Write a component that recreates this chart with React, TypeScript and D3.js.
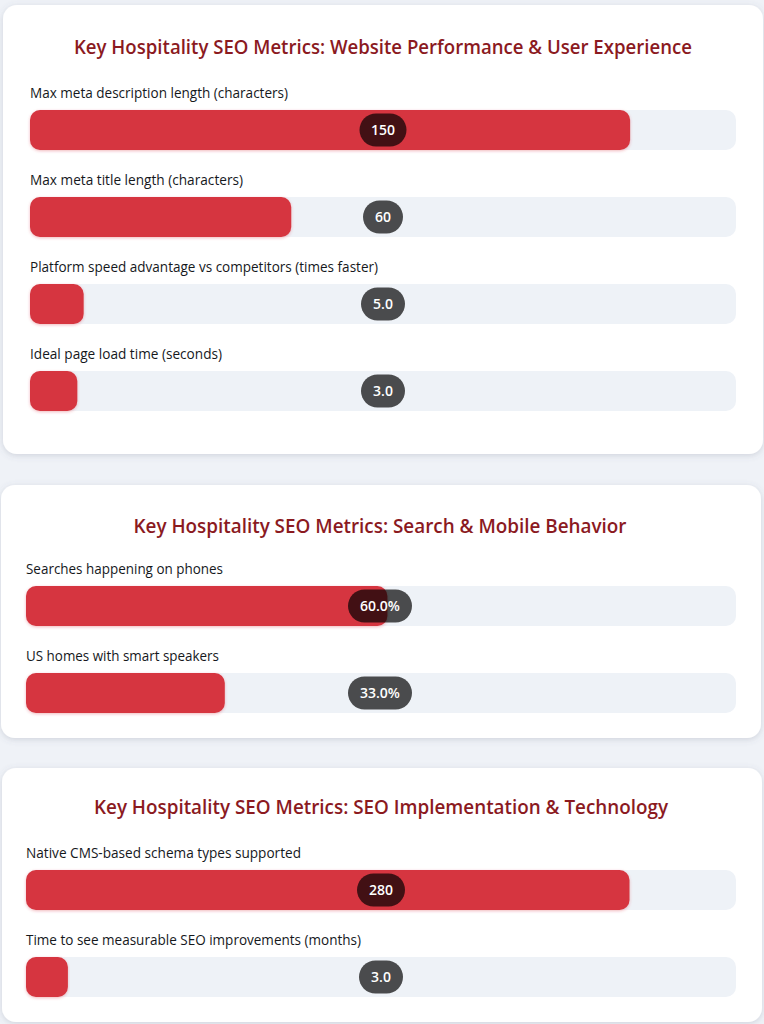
import * as d3 from "d3";

const FONT = "'Open Sans', 'Noto Sans', sans-serif";

const websiteLabels = [
  "Max meta description length (characters)",
  "Max meta title length (characters)",
  "Platform speed advantage vs competitors (times faster)",
  "Ideal page load time (seconds)",
];
const websiteValues = ["150", "60", "5.0", "3.0"];
const websiteFill = [85, 37, 7.6, 6.7];

const searchLabels = ["Searches happening on phones", "US homes with smart speakers"];
const searchValues = ["60.0%", "33.0%"];
const searchFill = [50.9, 28];

const techLabels = [
  "Native CMS-based schema types supported",
  "Time to see measurable SEO improvements (months)",
];
const techValues = ["280", "3.0"];
const techFill = [85, 5.9];

const titles = [
  "Key Hospitality SEO Metrics: Website Performance & User Experience",
  "Key Hospitality SEO Metrics: Search & Mobile Behavior",
  "Key Hospitality SEO Metrics: SEO Implementation & Technology",
];

type CardProps = {
  title: string;
  titleWidth: number;
  labels: string[];
  labelWidths: number[];
  values: string[];
  fill: number[];
  x: number;
  y: number;
  width: number;
  height: number;
  trackLeft: number;
  firstTrack: number;
  titleX: number;
  titleY: number;
  badgeX: number[];
  badgeW: number[];
};

const TRACK_RIGHT = 736;
const TRACK_H = 40;
const ROW_STEP = 87;

function Card({
  title,
  titleWidth,
  labels,
  labelWidths,
  values,
  fill,
  x,
  y,
  width,
  height,
  trackLeft,
  firstTrack,
  titleX,
  titleY,
  badgeX,
  badgeW,
}: CardProps) {
  const xScale = d3.scaleLinear().domain([0, 100]).range([trackLeft, TRACK_RIGHT]);

  return (
    <g>
      <rect x={x} y={y} width={width} height={height} rx={14} fill="#fff" filter="url(#cardShadow)" />
      <text
        x={titleX}
        y={titleY}
        textAnchor="middle"
        textLength={titleWidth}
        lengthAdjust="spacingAndGlyphs"
        fontFamily={FONT}
        fontSize={20}
        fontWeight={600}
        fill="#8b1a1f"
      >
        {title}
      </text>
      {labels.map((label, i) => {
        const top = firstTrack + i * ROW_STEP;
        return (
          <g key={label}>
            <text
              x={trackLeft}
              y={top - 12}
              textLength={labelWidths[i]}
              lengthAdjust="spacingAndGlyphs"
              fontFamily={FONT}
              fontSize={14}
              fontWeight={500}
              fill="#15181c"
            >
              {label}
            </text>
            <rect x={trackLeft} y={top} width={TRACK_RIGHT - trackLeft} height={TRACK_H} rx={10} fill="#eef2f7" />
            <rect
              x={trackLeft}
              y={top}
              width={xScale(fill[i]) - trackLeft}
              height={TRACK_H}
              rx={10}
              fill="#d6363f"
              filter="url(#barShadow)"
            />
            <rect
              x={badgeX[i] - badgeW[i] / 2}
              y={top + 3.5}
              width={badgeW[i]}
              height={33}
              rx={16.5}
              fill="#000"
              fillOpacity={0.69}
            />
            <text
              x={badgeX[i]}
              y={top + 25}
              textAnchor="middle"
              fontFamily={FONT}
              fontSize={14}
              fontWeight={600}
              fill="#fff"
            >
              {values[i]}
            </text>
          </g>
        );
      })}
    </g>
  );
}

export default function App() {
  return (
    <div style={{ position: "absolute", left: 0, top: 0, width: 764, height: 1024, overflow: "hidden" }}>
      <svg width={764} height={1024} style={{ display: "block" }}>
        <defs>
          <filter id="cardShadow" x="-5%" y="-5%" width="110%" height="110%">
            <feDropShadow dx={0} dy={1.5} stdDeviation={3} floodColor="#5a6478" floodOpacity={0.22} />
          </filter>
          <filter id="barShadow" x="-5%" y="-20%" width="110%" height="145%">
            <feDropShadow dx={0} dy={1} stdDeviation={1.5} floodColor="#d6363f" floodOpacity={0.35} />
          </filter>
        </defs>
        <rect width={764} height={1024} fill="#eff2f7" />
        <Card
          title={titles[0]}
          titleWidth={618}
          labels={websiteLabels}
          labelWidths={[258, 213, 348, 192]}
          values={websiteValues}
          fill={websiteFill}
          x={3}
          y={5}
          width={760}
          height={449}
          trackLeft={30}
          firstTrack={110}
          titleX={383}
          titleY={54}
          badgeX={[383, 383, 383, 383]}
          badgeW={[47, 40, 44, 44]}
        />
        <Card
          title={titles[1]}
          titleWidth={493}
          labels={searchLabels}
          labelWidths={[197, 193]}
          values={searchValues}
          fill={searchFill}
          x={1}
          y={485}
          width={760}
          height={253}
          trackLeft={26}
          firstTrack={586}
          titleX={380}
          titleY={533}
          badgeX={[380, 380]}
          badgeW={[64, 64]}
        />
        <Card
          title={titles[2]}
          titleWidth={574}
          labels={techLabels}
          labelWidths={[275, 335]}
          values={techValues}
          fill={techFill}
          x={2}
          y={768}
          width={760}
          height={254}
          trackLeft={26}
          firstTrack={870}
          titleX={381}
          titleY={814}
          badgeX={[381, 381]}
          badgeW={[48, 44]}
        />
      </svg>
    </div>
  );
}
